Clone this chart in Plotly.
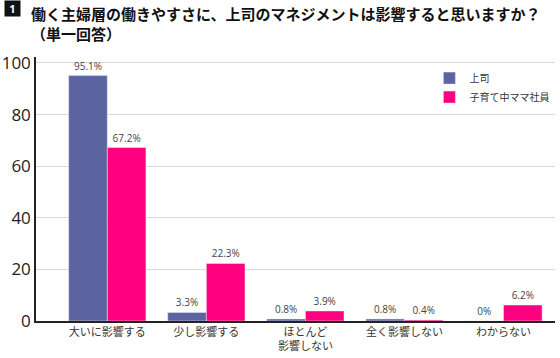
import plotly.graph_objects as go

categories = ["大いに影響する", "少し影響する", "ほとんど<br>影響しない", "全く影響しない", "わからない"]
boss = [95.1, 3.3, 0.8, 0.8, 0.0]
mama = [67.2, 22.3, 3.9, 0.4, 6.2]
boss_labels = ["95.1%", "3.3%", "0.8%", "0.8%", "0%"]
mama_labels = ["67.2%", "22.3%", "3.9%", "0.4%", "6.2%"]
series_names = ["上司", "子育て中ママ社員"]
yticks = [0, 20, 40, 60, 80, 100]

xpos = list(range(len(categories)))
BLUE = "#5c63a1"
PINK = "#ff0080"
JP = "Noto Sans CJK JP"

fig = go.Figure()
fig.add_trace(go.Bar(x=xpos, y=boss, name=series_names[0], marker_color=BLUE,
                     text=boss_labels, textposition="outside", cliponaxis=False,
                     textfont=dict(size=10, color="#444", family="Open Sans")))
fig.add_trace(go.Bar(x=xpos, y=mama, name=series_names[1], marker_color=PINK,
                     text=mama_labels, textposition="outside", cliponaxis=False,
                     textfont=dict(size=10, color="#444", family="Open Sans")))

fig.update_layout(
    width=560, height=358,
    margin=dict(l=36, r=5, t=57, b=37, autoexpand=False),
    paper_bgcolor="white", plot_bgcolor="white",
    barmode="group", bargap=0.22, bargroupgap=0,
    font=dict(family=JP, color="#222"),
    showlegend=True,
    legend=dict(x=0.758, y=0.975, xanchor="left", yanchor="top",
                font=dict(size=10, family=JP, color="#333"),
                bgcolor="rgba(0,0,0,0)", tracegroupgap=5),
    xaxis=dict(range=[-0.72, 4.52], tickmode="array", tickvals=xpos, ticktext=categories,
               showline=True, linecolor="#222", linewidth=1.5, ticks="", automargin=False,
               tickfont=dict(size=11, family=JP, color="#333"), showgrid=False, zeroline=False),
    yaxis=dict(range=[0, 102.3], tickmode="array", tickvals=yticks, automargin=False,
               showline=True, linecolor="#222", linewidth=1.5, ticks="",
               gridcolor="#d9d9d9", gridwidth=1, zeroline=False,
               tickfont=dict(size=17, family="Open Sans", color="#222")),
    annotations=[
        dict(text="<b>1</b>", xref="paper", yref="paper", x=-0.062, y=1.185,
             xanchor="left", yanchor="middle", showarrow=False,
             font=dict(size=11, color="white", family="Open Sans"),
             bgcolor="#111", borderpad=1, width=13, height=13),
        dict(text="<b>働く主婦層の働きやすさに、上司のマネジメントは影響すると思いますか？</b><br><b>（単一回答）</b>",
             xref="paper", yref="paper", x=-0.014, y=1.212, xanchor="left", yanchor="top",
             align="left", showarrow=False,
             font=dict(size=15, color="#111", family=JP)),
    ],
)
fig.write_html("out.html", config={"displayModeBar": False},
               post_script="document.body.style.margin='0';")
